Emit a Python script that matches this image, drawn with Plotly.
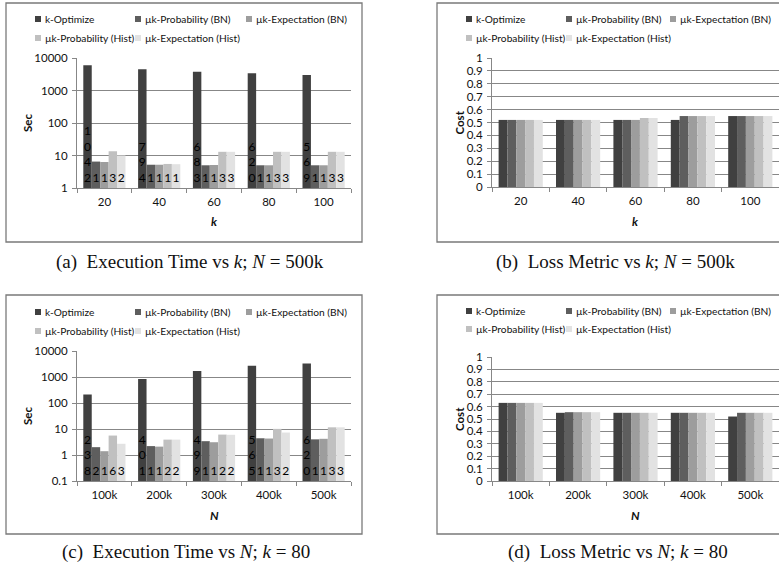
import plotly.graph_objects as go

W, H = 779, 575

series = ["k-Optimize", "µk-Probability (BN)", "µk-Expectation (BN)",
          "µk-Probability (Hist)", "µk-Expectation (Hist)"]
colors = ["#404040", "#5e5e5e", "#9d9d9d", "#c0c0c0", "#e2e2e2"]

k_values = ["20", "40", "60", "80", "100"]
n_values = ["100k", "200k", "300k", "400k", "500k"]

# (a) Execution time vs k, N = 500k (seconds)
time_k_kopt = [6000, 4500, 3800, 3400, 3000]
time_k_bn_prob = [5.5, 4.2, 4.0, 4.0, 4.0]
time_k_bn_exp = [5.3, 4.2, 4.1, 4.0, 4.0]
time_k_hist_prob = [12.5, 4.5, 12.0, 12.0, 12.0]
time_k_hist_exp = [9.0, 4.4, 12.0, 12.0, 12.0]
lab_k_kopt = ["1042", "794", "683", "620", "569"]
lab_k_bn_prob = ["1", "1", "1", "1", "1"]
lab_k_bn_exp = ["1", "1", "1", "1", "1"]
lab_k_hist_prob = ["3", "1", "3", "3", "3"]
lab_k_hist_exp = ["2", "1", "3", "3", "3"]

# (b) Loss metric vs k, N = 500k
cost_k_kopt = [0.52, 0.52, 0.52, 0.52, 0.55]
cost_k_bn_prob = [0.52, 0.52, 0.52, 0.55, 0.55]
cost_k_bn_exp = [0.52, 0.52, 0.52, 0.55, 0.55]
cost_k_hist_prob = [0.52, 0.52, 0.535, 0.55, 0.55]
cost_k_hist_exp = [0.52, 0.52, 0.535, 0.55, 0.55]

# (c) Execution time vs N, k = 80 (seconds)
time_n_kopt = [210, 830, 1700, 2700, 3300]
time_n_bn_prob = [1.9, 2.1, 3.3, 4.3, 3.9]
time_n_bn_exp = [1.3, 2.0, 3.0, 4.2, 4.1]
time_n_hist_prob = [5.5, 3.8, 6.0, 10.0, 11.5]
time_n_hist_exp = [2.6, 3.8, 5.9, 7.2, 11.5]
lab_n_kopt = ["238", "401", "499", "565", "620"]
lab_n_bn_prob = ["2", "1", "1", "1", "1"]
lab_n_bn_exp = ["1", "1", "1", "1", "1"]
lab_n_hist_prob = ["6", "2", "2", "3", "3"]
lab_n_hist_exp = ["3", "2", "2", "2", "3"]

# (d) Loss metric vs N, k = 80
cost_n_kopt = [0.63, 0.55, 0.55, 0.55, 0.52]
cost_n_bn_prob = [0.63, 0.555, 0.55, 0.55, 0.55]
cost_n_bn_exp = [0.63, 0.555, 0.55, 0.55, 0.55]
cost_n_hist_prob = [0.63, 0.555, 0.55, 0.55, 0.55]
cost_n_hist_exp = [0.63, 0.555, 0.55, 0.55, 0.55]

log_tickvals = [0.1, 1, 10, 100, 1000, 10000]
log_ticktext = ["0.1", "1", "10", "100", "1000", "10000"]

captions = [
    "(a)  Execution Time vs <i>k</i>; <i>N</i> = 500k",
    "(b)  Loss Metric vs <i>k</i>; <i>N</i> = 500k",
    "(c)  Execution Time vs <i>N</i>; <i>k</i> = 80",
    "(d)  Loss Metric vs <i>N</i>; <i>k</i> = 80",
]

FONT = "Lato"


def vstack(s):
    return "<br>".join(list(s))


def fx(p):
    return p / W


def fy(p):
    return 1 - p / H


panels = [
    dict(ax="", cats=k_values, base=1,
         vals=[time_k_kopt, time_k_bn_prob, time_k_bn_exp, time_k_hist_prob, time_k_hist_exp],
         labs=[lab_k_kopt, lab_k_bn_prob, lab_k_bn_exp, lab_k_hist_prob, lab_k_hist_exp],
         xdom=(77, 351), ydom=(58, 188), log=True, yr=[0, 4],
         box=(6, 3, 362, 242), legcols=(35, 135, 246), legrows=(19, 38),
         ytitle="Sec", xtitle="k", ytx=27, cap=(190, 262)),
    dict(ax="2", cats=k_values, base=None,
         vals=[cost_k_kopt, cost_k_bn_prob, cost_k_bn_exp, cost_k_hist_prob, cost_k_hist_exp],
         labs=None,
         xdom=(492, 779), ydom=(58, 187), log=False, yr=[0, 1],
         box=(437, 3, 782, 242), legcols=(466, 566, 670), legrows=(19, 38),
         ytitle="Cost", xtitle="k", ytx=459, cap=(615, 262)),
    dict(ax="3", cats=n_values, base=0.1,
         vals=[time_n_kopt, time_n_bn_prob, time_n_bn_exp, time_n_hist_prob, time_n_hist_exp],
         labs=[lab_n_kopt, lab_n_bn_prob, lab_n_bn_exp, lab_n_hist_prob, lab_n_hist_exp],
         xdom=(77, 351), ydom=(351, 481), log=True, yr=[-1, 4],
         box=(6, 295, 362, 534), legcols=(35, 135, 246), legrows=(312, 331),
         ytitle="Sec", xtitle="N", ytx=27, cap=(186, 552)),
    dict(ax="4", cats=n_values, base=None,
         vals=[cost_n_kopt, cost_n_bn_prob, cost_n_bn_exp, cost_n_hist_prob, cost_n_hist_exp],
         labs=None,
         xdom=(492, 779), ydom=(357, 481), log=False, yr=[0, 1],
         box=(437, 295, 782, 534), legcols=(466, 566, 670), legrows=(311, 329),
         ytitle="Cost", xtitle="N", ytx=459, cap=(618, 552)),
]

# legend slot (column index, row index) for each series
legend_slots = [(0, 0), (1, 0), (2, 0), (0, 1), (1, 1)]

AX = "#878787"
TXT = "#111111"
fig = go.Figure()
layout = dict(
    width=W, height=H,
    margin=dict(l=0, r=0, t=0, b=0, autoexpand=False),
    paper_bgcolor="white", plot_bgcolor="white",
    barmode="group", bargap=0.23, bargroupgap=0,
    font=dict(family=FONT, size=11, color=TXT),
    showlegend=False,
)
shapes = []
annotations = []

for p in panels:
    xa = "x" + p["ax"]
    ya = "y" + p["ax"]
    for j in range(5):
        kw = {}
        if p["labs"] is not None:
            lab_font = dict(size=12, color="#000000", family=FONT)
            kw = dict(text=[vstack(s) for s in p["labs"][j]], textposition="inside",
                      insidetextanchor="start", textangle=0, constraintext="none",
                      textfont=lab_font, insidetextfont=lab_font)
        if p["base"] is not None:
            kw["base"] = p["base"]
        fig.add_trace(go.Bar(
            x=p["cats"], y=p["vals"][j], name=series[j],
            marker=dict(color=colors[j], line=dict(width=0)),
            xaxis=xa, yaxis=ya, hoverinfo="name+y",
            **kw,
        ))
    xkey = "xaxis" + p["ax"]
    ykey = "yaxis" + p["ax"]
    layout[xkey] = dict(
        domain=[fx(p["xdom"][0]), fx(p["xdom"][1])], anchor=ya, type="category",
        showline=True, linecolor=AX, linewidth=1, ticks="outside", tickson="boundaries",
        ticklen=4, tickcolor=AX, showgrid=False, tickfont=dict(size=11.5, color=TXT),
        ticklabelstandoff=3, fixedrange=True,
    )
    ydict = dict(
        domain=[fy(p["ydom"][1]), fy(p["ydom"][0])], anchor=xa,
        range=p["yr"], showline=True, linecolor=AX, linewidth=1, ticks="outside",
        ticklen=4, tickcolor=AX, showgrid=True, gridcolor=AX, gridwidth=1,
        zeroline=False, tickfont=dict(size=11.5, color=TXT), ticklabelstandoff=2,
        fixedrange=True,
    )
    if p["log"]:
        ydict.update(type="log", tickvals=log_tickvals, ticktext=log_ticktext)
    else:
        ydict.update(dtick=0.1, tick0=0)
    layout[ykey] = ydict

    # legend (swatch + label) for this panel
    for j, (ci, ri) in enumerate(legend_slots):
        cx = p["legcols"][ci]
        cy = p["legrows"][ri]
        shapes.append(dict(type="rect", xref="paper", yref="paper",
                           x0=fx(cx), x1=fx(cx + 6), y0=fy(cy + 3), y1=fy(cy - 3),
                           line=dict(width=0), fillcolor=colors[j]))
        annotations.append(dict(xref="paper", yref="paper", x=fx(cx + 8), y=fy(cy),
                                text=series[j], showarrow=False, xanchor="left",
                                yanchor="middle",
                                font=dict(size=10.2, color=TXT, family=FONT)))

    bx0, by0, bx1, by1 = p["box"]
    shapes.append(dict(type="rect", xref="paper", yref="paper",
                       x0=fx(bx0), x1=fx(bx1), y0=fy(by1), y1=fy(by0),
                       line=dict(color="#7a7a7a", width=1.3), fillcolor="rgba(0,0,0,0)",
                       layer="below"))
    ymid = (p["ydom"][0] + p["ydom"][1]) / 2
    annotations.append(dict(xref="paper", yref="paper", x=fx(p["ytx"]), y=fy(ymid),
                            text="<b>%s</b>" % p["ytitle"], textangle=-90, showarrow=False,
                            font=dict(size=11.5, color=TXT, family=FONT),
                            xanchor="center", yanchor="middle"))
    xmid = (p["xdom"][0] + p["xdom"][1]) / 2
    annotations.append(dict(xref="paper", yref="paper", x=fx(xmid), y=fy(p["ydom"][1] + 34),
                            text="<b><i>%s</i></b>" % p["xtitle"], showarrow=False,
                            font=dict(size=12, color=TXT, family=FONT),
                            xanchor="center", yanchor="middle"))

for i, p in enumerate(panels):
    cx, cy = p["cap"]
    annotations.append(dict(xref="paper", yref="paper", x=fx(cx), y=fy(cy),
                            text=captions[i], showarrow=False,
                            font=dict(size=19, color="#111111", family="Liberation Serif"),
                            xanchor="center", yanchor="middle"))

layout["shapes"] = shapes
layout["annotations"] = annotations
fig.update_layout(**layout)
fig.write_html("out.html")
